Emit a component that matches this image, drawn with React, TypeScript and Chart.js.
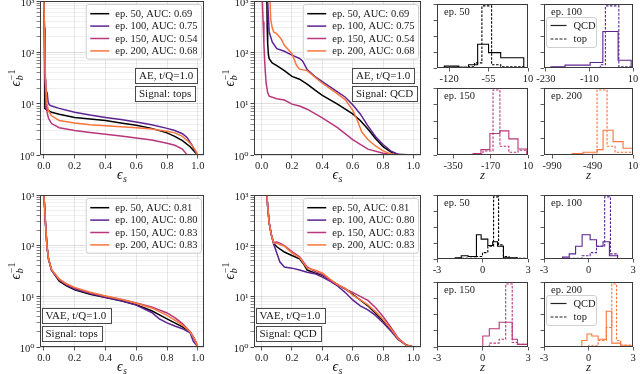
import React, { useEffect, useRef } from 'react';
import { Chart, registerables } from 'chart.js';

Chart.register(...registerables);

const SERIF = "'Liberation Serif', 'DejaVu Serif', serif";
const INK = '#1a1a1a';
const FRAME = '#3a3a3a';

const EPOCH_LABELS = ['ep. 50', 'ep. 100', 'ep. 150', 'ep. 200'];
const EPOCH_COLORS = ['#000000', '#5c2390', '#b8367b', '#f8763b'];
const AUC_AE = ['0.69', '0.75', '0.54', '0.68'];
const AUC_VAE = ['0.81', '0.80', '0.83', '0.83'];

const ROC_X_TICKS = [0, 0.2, 0.4, 0.6, 0.8, 1.0];
const ROC_Y_DECADES = [1, 10, 100, 1000];
const ROC_Y_LABELS = ['10⁰', '10¹', '10²', '10³'];
const HIST_Y_TICKS = [0, 0.25, 0.5, 0.75, 1.0];

// ROC curves, points are [signal efficiency, 1 / background efficiency]
const AE_TOPS_EP50 = [[0, 1000], [0.004, 300], [0.006, 60], [0.007, 8], [0.03, 7.3], [0.05, 6.8], [0.1, 6.2], [0.2, 5.4], [0.3, 5.0], [0.4, 4.7], [0.5, 4.2], [0.6, 3.8], [0.7, 3.3], [0.8, 2.7], [0.85, 2.3], [0.9, 1.9], [0.95, 1.45], [0.98, 1.15], [1.0, 1.0]];
const AE_TOPS_EP100 = [[0, 1000], [0.005, 200], [0.01, 30], [0.015, 18], [0.022, 16], [0.027, 11], [0.035, 9.5], [0.05, 9.0], [0.1, 8.1], [0.2, 6.8], [0.3, 6.0], [0.4, 5.4], [0.5, 4.9], [0.6, 4.4], [0.7, 3.9], [0.8, 3.3], [0.85, 3.0], [0.9, 2.6], [0.93, 2.2], [0.96, 1.6], [0.98, 1.2], [1.0, 1.0]];
const AE_TOPS_EP150 = [[0, 1000], [0.004, 100], [0.008, 30], [0.012, 12], [0.02, 7], [0.03, 5.2], [0.05, 4.1], [0.1, 3.4], [0.2, 3.0], [0.3, 2.75], [0.4, 2.55], [0.5, 2.35], [0.6, 2.15], [0.7, 1.95], [0.8, 1.7], [0.85, 1.55], [0.9, 1.3], [0.92, 1.1], [0.93, 1.0], [1.0, 1.0]];
const AE_TOPS_EP200 = [[0, 1000], [0.005, 200], [0.01, 30], [0.02, 10], [0.03, 7.2], [0.05, 5.8], [0.1, 4.7], [0.2, 4.2], [0.3, 3.9], [0.4, 3.7], [0.5, 3.55], [0.6, 3.4], [0.7, 3.2], [0.8, 2.9], [0.85, 2.7], [0.9, 2.3], [0.95, 1.7], [0.98, 1.3], [1.0, 1.0]];

const AE_QCD_EP50 = [[0.035, 1000], [0.037, 300], [0.04, 150], [0.045, 90], [0.05, 75], [0.07, 62], [0.1, 55], [0.15, 44], [0.2, 34], [0.25, 30], [0.3, 24], [0.35, 18.5], [0.4, 14.5], [0.5, 9.8], [0.6, 6.3], [0.65, 4.7], [0.7, 3.2], [0.75, 2.1], [0.8, 1.45], [0.85, 1.15], [0.9, 1.02], [1.0, 1.0]];
const AE_QCD_EP100 = [[0.04, 1000], [0.045, 500], [0.05, 250], [0.07, 160], [0.1, 118], [0.15, 105], [0.2, 88], [0.25, 76], [0.27, 68], [0.3, 46], [0.35, 34], [0.4, 27], [0.5, 17], [0.55, 13.5], [0.6, 9.5], [0.65, 6.3], [0.7, 3.7], [0.75, 2.3], [0.8, 1.6], [0.85, 1.2], [0.9, 1.03], [1.0, 1.0]];
const AE_QCD_EP150 = [[0.005, 1000], [0.01, 400], [0.015, 150], [0.02, 70], [0.025, 40], [0.03, 25], [0.04, 16.5], [0.05, 14], [0.1, 12.5], [0.15, 11.8], [0.2, 9.8], [0.25, 9.0], [0.3, 7.8], [0.4, 5.3], [0.5, 3.4], [0.6, 2.0], [0.7, 1.3], [0.8, 1.08], [0.9, 1.0], [1.0, 1.0]];
const AE_QCD_EP200 = [[0.055, 1000], [0.06, 450], [0.07, 300], [0.08, 250], [0.1, 230], [0.13, 180], [0.15, 137], [0.2, 94], [0.23, 56], [0.25, 47], [0.3, 44], [0.35, 33], [0.4, 25], [0.5, 15.5], [0.55, 12], [0.6, 7.5], [0.63, 4.8], [0.66, 2.8], [0.7, 2.0], [0.75, 1.5], [0.8, 1.2], [0.85, 1.05], [0.9, 1.0], [1.0, 1.0]];

const VAE_TOPS_EP50 = [[0, 1000], [0.005, 600], [0.01, 300], [0.02, 100], [0.03, 55], [0.05, 33], [0.1, 20], [0.15, 16], [0.2, 13.5], [0.3, 11], [0.4, 9.5], [0.5, 8.2], [0.6, 6.8], [0.7, 5.2], [0.8, 3.6], [0.85, 3.0], [0.9, 2.5], [0.95, 2.0], [0.98, 1.4], [1.0, 1.0]];
const VAE_TOPS_EP100 = [[0, 1000], [0.005, 600], [0.01, 300], [0.02, 100], [0.03, 55], [0.05, 33], [0.1, 21], [0.15, 16.5], [0.2, 14], [0.3, 11.3], [0.4, 9.6], [0.5, 8.3], [0.6, 6.7], [0.7, 4.8], [0.75, 3.6], [0.8, 3.0], [0.85, 2.6], [0.9, 2.3], [0.95, 1.9], [0.97, 1.3], [1.0, 1.0]];
const VAE_TOPS_EP150 = [[0, 1000], [0.005, 600], [0.01, 300], [0.02, 100], [0.03, 55], [0.05, 33], [0.1, 21], [0.15, 17], [0.2, 14.5], [0.3, 11.8], [0.4, 10], [0.5, 8.8], [0.6, 7.4], [0.7, 6.2], [0.8, 4.7], [0.85, 3.8], [0.9, 2.9], [0.95, 2.0], [0.98, 1.4], [1.0, 1.0]];
const VAE_TOPS_EP200 = [[0, 1000], [0.005, 600], [0.01, 300], [0.02, 100], [0.03, 56], [0.05, 34], [0.1, 22], [0.15, 17.5], [0.2, 15], [0.3, 12], [0.4, 10.2], [0.5, 8.8], [0.6, 7.3], [0.7, 5.9], [0.8, 4.2], [0.85, 3.4], [0.9, 2.7], [0.95, 2.0], [0.98, 1.4], [1.0, 1.0]];

const VAE_QCD_EP50 = [[0.035, 1000], [0.04, 600], [0.05, 280], [0.065, 160], [0.08, 110], [0.1, 95], [0.15, 75], [0.2, 64], [0.25, 55], [0.28, 42], [0.3, 33], [0.35, 29], [0.4, 26], [0.45, 21], [0.5, 17], [0.55, 14], [0.6, 11], [0.7, 6.5], [0.8, 3.3], [0.85, 2.2], [0.9, 1.45], [0.95, 1.1], [1.0, 1.0]];
const VAE_QCD_EP100 = [[0.035, 1000], [0.04, 600], [0.05, 280], [0.065, 160], [0.08, 105], [0.09, 88], [0.1, 72], [0.12, 48], [0.15, 38], [0.2, 36], [0.25, 33], [0.3, 30], [0.35, 28], [0.4, 24], [0.45, 20], [0.5, 16], [0.55, 12], [0.6, 8.5], [0.65, 6.5], [0.7, 5.4], [0.75, 4.2], [0.8, 3.0], [0.85, 2.1], [0.9, 1.4], [0.95, 1.1], [1.0, 1.0]];
const VAE_QCD_EP150 = [[0.035, 1000], [0.04, 600], [0.05, 280], [0.065, 160], [0.08, 115], [0.1, 118], [0.12, 112], [0.15, 100], [0.2, 76], [0.25, 60], [0.3, 38], [0.35, 31], [0.4, 27], [0.45, 21], [0.5, 17], [0.55, 14], [0.6, 12], [0.65, 10], [0.7, 8.3], [0.75, 6], [0.8, 4], [0.85, 2.5], [0.9, 1.5], [0.95, 1.1], [1.0, 1.0]];
const VAE_QCD_EP200 = [[0.035, 1000], [0.04, 600], [0.05, 280], [0.065, 160], [0.08, 112], [0.1, 112], [0.12, 105], [0.15, 98], [0.2, 72], [0.25, 58], [0.3, 36], [0.35, 33], [0.4, 29], [0.45, 22], [0.5, 17], [0.55, 14.5], [0.6, 10.5], [0.65, 8.5], [0.7, 6.8], [0.75, 5], [0.8, 3.5], [0.85, 2.3], [0.9, 1.45], [0.95, 1.1], [1.0, 1.0]];

// Latent-space histograms: bin edges and normalised heights
const AE50_QCD_EDGES = [-140, -128, -104, -88, -73, -55, -35, 3];
const AE50_QCD_H = [0.004, 0.03, 0.01, 0.05, 0.37, 0.24, 0.16];
const AE50_TOP_EDGES = [-140, -112, -88, -78, -66, -50, -35, 3];
const AE50_TOP_H = [0.003, 0.01, 0.02, 0.08, 0.97, 0.05, 0.02];
const AE100_QCD_EDGES = [-235, -216, -177, -108, -73, -31, 5];
const AE100_QCD_H = [0.003, 0.02, 0.045, 0.085, 0.57, 0.12];
const AE100_TOP_EDGES = [-235, -80, -66, -29, 5];
const AE100_TOP_H = [0.003, 0.05, 0.97, 0.02];
const AE150_QCD_EDGES = [-427, -254, -216, -173, -125, -82, -38, 5];
const AE150_QCD_H = [0.003, 0.02, 0.08, 0.32, 0.36, 0.24, 0.09];
const AE150_TOP_EDGES = [-427, -240, -206, -158, -125, -82, -38, 5];
const AE150_TOP_H = [0.003, 0.015, 0.06, 0.97, 0.13, 0.04, 0.07];
const AE200_QCD_EDGES = [-1090, -743, -607, -434, -360, -236, -113, 5];
const AE200_QCD_H = [0.003, 0.02, 0.04, 0.08, 0.37, 0.2, 0.1];
const AE200_TOP_EDGES = [-1090, -600, -434, -311, -212, 5];
const AE200_TOP_H = [0.003, 0.01, 0.97, 0.13, 0.04];

const VAE50_QCD_EDGES = [-1.8, -1.4, -0.95, -0.4, -0.09, 0.35, 0.67, 0.99, 1.38, 2.3, 3];
const VAE50_QCD_H = [0.02, 0.05, 0.04, 0.38, 0.31, 0.21, 0.27, 0.2, 0.02, 0.005];
const VAE50_TOP_EDGES = [-1.6, -0.4, 0.0, 0.35, 0.73, 1.06, 1.38, 1.75, 3];
const VAE50_TOP_H = [0.01, 0.04, 0.1, 0.2, 0.97, 0.22, 0.04, 0.01];
const VAE100_QCD_EDGES = [-1.75, -1.3, -0.87, -0.43, 0.11, 0.54, 0.98, 1.41, 1.96, 3];
const VAE100_QCD_H = [0.03, 0.08, 0.2, 0.38, 0.3, 0.2, 0.27, 0.05, 0.005];
const VAE100_TOP_EDGES = [-1.3, -0.43, 0.11, 0.54, 1.09, 1.48, 1.96, 3];
const VAE100_TOP_H = [0.01, 0.05, 0.1, 0.2, 0.97, 0.08, 0.005];
const VAE150_QCD_EDGES = [0.02, 0.45, 1.1, 1.96, 2.3, 3];
const VAE150_QCD_H = [0.17, 0.28, 0.38, 0.12, 0.04];
const VAE150_TOP_EDGES = [0.45, 1.1, 1.53, 1.96, 2.3, 3];
const VAE150_TOP_H = [0.06, 0.12, 0.97, 0.07, 0.04];
const VAE200_QCD_EDGES = [-0.45, -0.1, 0.22, 0.65, 1.2, 1.57, 2.17, 3];
const VAE200_QCD_H = [0.1, 0.2, 0.17, 0.12, 0.55, 0.06, 0.02];
const VAE200_TOP_EDGES = [0.0, 0.65, 1.2, 1.57, 1.89, 2.17, 3];
const VAE200_TOP_H = [0.02, 0.1, 0.3, 0.97, 0.1, 0.03];

const AE_HIST_RANGES = [[-140, 10], [-235, 10], [-427, 10], [-1090, 10]];
const AE_HIST_TICKS = [[-120, -55, 10], [-230, -110, 10], [-350, -170, 10], [-990, -490, 10]];
const VAE_HIST_RANGE = [-3, 3];
const VAE_HIST_TICKS = [-3, 0, 3];

type Rect = { l: number; t: number; r: number; b: number };

function roundRectPath(ctx: CanvasRenderingContext2D, x: number, y: number, w: number, h: number, r: number) {
  ctx.beginPath();
  ctx.moveTo(x + r, y);
  ctx.lineTo(x + w - r, y);
  ctx.arcTo(x + w, y, x + w, y + r, r);
  ctx.lineTo(x + w, y + h - r);
  ctx.arcTo(x + w, y + h, x + w - r, y + h, r);
  ctx.lineTo(x + r, y + h);
  ctx.arcTo(x, y + h, x, y + h - r, r);
  ctx.lineTo(x, y + r);
  ctx.arcTo(x, y, x + r, y, r);
  ctx.closePath();
}

function drawEps(ctx: CanvasRenderingContext2D, cx: number, cy: number, sub: string, sup: string, vertical: boolean) {
  ctx.save();
  ctx.translate(cx, cy);
  if (vertical) ctx.rotate(-Math.PI / 2);
  const fMain = `italic 14px ${SERIF}`;
  const fSub = `italic 10px ${SERIF}`;
  const fSup = `10px ${SERIF}`;
  ctx.font = fMain;
  const w0 = ctx.measureText('ϵ').width;
  ctx.font = fSub;
  const w1 = ctx.measureText(sub).width;
  let w2 = 0;
  if (sup) {
    ctx.font = fSup;
    w2 = ctx.measureText(sup).width;
  }
  const total = w0 + 0.5 + Math.max(w1, w2);
  const x = -total / 2;
  ctx.fillStyle = INK;
  ctx.textAlign = 'left';
  ctx.textBaseline = 'alphabetic';
  ctx.font = fMain;
  ctx.fillText('ϵ', x, 3);
  ctx.font = fSub;
  ctx.fillText(sub, x + w0 + 0.5, 6);
  if (sup) {
    ctx.font = fSup;
    ctx.fillText(sup, x + w0 + 0.5, -2);
  }
  ctx.restore();
}

function drawFrame(ctx: CanvasRenderingContext2D, a: any) {
  ctx.save();
  ctx.strokeStyle = FRAME;
  ctx.lineWidth = 1;
  ctx.strokeRect(Math.round(a.left) + 0.5, Math.round(a.top) + 0.5, Math.round(a.right - a.left) - 1, Math.round(a.bottom - a.top) - 1);
  ctx.restore();
}

type RocSpec = {
  key: string;
  plot: Rect;
  xMin: number;
  xMax: number;
  curves: number[][][];
  aucs: string[];
  boxes: string[];
  boxSide: 'right' | 'left';
};

const ROC_SPECS: RocSpec[] = [
  { key: 'ae-tops', plot: { l: 40, t: 1, r: 204, b: 155 }, xMin: -0.025, xMax: 1.04, curves: [AE_TOPS_EP50, AE_TOPS_EP100, AE_TOPS_EP150, AE_TOPS_EP200], aucs: AUC_AE, boxes: ['AE, t/Q=1.0', 'Signal: tops'], boxSide: 'right' },
  { key: 'ae-qcd', plot: { l: 254, t: 1, r: 421, b: 155 }, xMin: -0.05, xMax: 1.05, curves: [AE_QCD_EP50, AE_QCD_EP100, AE_QCD_EP150, AE_QCD_EP200], aucs: AUC_AE, boxes: ['AE, t/Q=1.0', 'Signal: QCD'], boxSide: 'right' },
  { key: 'vae-tops', plot: { l: 40, t: 195, r: 204, b: 347 }, xMin: -0.025, xMax: 1.04, curves: [VAE_TOPS_EP50, VAE_TOPS_EP100, VAE_TOPS_EP150, VAE_TOPS_EP200], aucs: AUC_VAE, boxes: ['VAE, t/Q=1.0', 'Signal: tops'], boxSide: 'left' },
  { key: 'vae-qcd', plot: { l: 254, t: 195, r: 421, b: 347 }, xMin: -0.05, xMax: 1.05, curves: [VAE_QCD_EP50, VAE_QCD_EP100, VAE_QCD_EP150, VAE_QCD_EP200], aucs: AUC_VAE, boxes: ['VAE, t/Q=1.0', 'Signal: QCD'], boxSide: 'left' },
];

const ROC_AXIS_W = 40;
const ROC_AXIS_H = 32;
const ROC_PAD_T = 12;
const ROC_PAD_R = 14;

function rocCanvasBox(p: Rect) {
  return { x: p.l - ROC_AXIS_W, y: p.t - ROC_PAD_T, w: p.r - p.l + ROC_AXIS_W + ROC_PAD_R, h: p.b - p.t + ROC_PAD_T + ROC_AXIS_H };
}

function makeRocConfig(spec: RocSpec) {
  const datasets = spec.curves.map((c, i) => ({
    label: EPOCH_LABELS[i],
    data: c.map(([x, y]) => ({ x, y })),
    borderColor: EPOCH_COLORS[i],
    backgroundColor: EPOCH_COLORS[i],
    borderWidth: 1.5,
    pointRadius: 0,
    tension: 0,
    fill: false,
    order: 3 - i,
  }));
  const legendLabels = spec.aucs.map((a, i) => `${EPOCH_LABELS[i]}, AUC: ${a}`);
  const deco = {
    id: 'rocDeco',
    afterDraw(chart: any) {
      const ctx: CanvasRenderingContext2D = chart.ctx;
      const a = chart.chartArea;
      drawFrame(ctx, a);
      ctx.save();
      // legend
      ctx.font = `10.5px ${SERIF}`;
      const tw = Math.max(...legendLabels.map((l) => ctx.measureText(l).width));
      const rowH = 12.4;
      const lineW = 19;
      const w = 4 + lineW + 6 + tw + 4;
      const h = rowH * legendLabels.length + 5;
      const x0 = a.right - 2.5 - w;
      const y0 = a.top + 3.5;
      roundRectPath(ctx, x0, y0, w, h, 2.5);
      ctx.fillStyle = 'rgba(255,255,255,0.85)';
      ctx.fill();
      ctx.strokeStyle = '#cfcfcf';
      ctx.lineWidth = 1;
      ctx.stroke();
      legendLabels.forEach((l, i) => {
        const yy = y0 + 2.5 + rowH * (i + 0.5) + 0.5;
        ctx.beginPath();
        ctx.moveTo(x0 + 4, yy);
        ctx.lineTo(x0 + 4 + lineW, yy);
        ctx.strokeStyle = EPOCH_COLORS[i];
        ctx.lineWidth = 1.5;
        ctx.stroke();
        ctx.fillStyle = INK;
        ctx.textAlign = 'left';
        ctx.textBaseline = 'middle';
        ctx.fillText(l, x0 + 4 + lineW + 6, yy + 0.5);
      });
      // text boxes
      ctx.font = `11px ${SERIF}`;
      spec.boxes.forEach((t, i) => {
        const bw = ctx.measureText(t).width + 8;
        const bh = 15;
        const bx = spec.boxSide === 'right' ? a.right - 69 : a.left + 1.5;
        const by = spec.boxSide === 'right' ? a.top + 67 + i * 18 : a.top + 113 + i * 17.5;
        ctx.fillStyle = '#ffffff';
        ctx.fillRect(bx, by, bw, bh);
        ctx.strokeStyle = '#4a4a4a';
        ctx.lineWidth = 1;
        ctx.strokeRect(Math.round(bx) + 0.5, Math.round(by) + 0.5, Math.round(bw), Math.round(bh));
        ctx.fillStyle = INK;
        ctx.textAlign = 'left';
        ctx.textBaseline = 'middle';
        ctx.fillText(t, bx + 4, by + bh / 2 + 1);
      });
      ctx.restore();
      // axis titles
      drawEps(ctx, (a.left + a.right) / 2, a.bottom + 21, 's', '', false);
      drawEps(ctx, a.left - 23, (a.top + a.bottom) / 2, 'b', '−1', true);
    },
  };
  return {
    type: 'line',
    data: { datasets },
    options: {
      animation: false,
      responsive: false,
      devicePixelRatio: 1,
      events: [],
      layout: { padding: { top: ROC_PAD_T, right: ROC_PAD_R, left: 0, bottom: 0 } },
      plugins: { legend: { display: false }, tooltip: { enabled: false }, title: { display: false } },
      scales: {
        x: {
          type: 'linear',
          min: spec.xMin,
          max: spec.xMax,
          afterBuildTicks: (s: any) => {
            s.ticks = ROC_X_TICKS.map((v) => ({ value: v }));
          },
          afterFit: (s: any) => {
            s.height = ROC_AXIS_H;
          },
          ticks: {
            autoSkip: false,
            maxRotation: 0,
            padding: 1,
            color: INK,
            font: { family: SERIF, size: 10.5 },
            callback: (v: any) => Number(v).toFixed(1),
          },
          grid: { color: 'rgba(0,0,0,0.12)', lineWidth: 0.8, tickLength: 3.5, tickColor: '#333', tickWidth: 0.8 },
          border: { display: false },
        },
        y: {
          type: 'logarithmic',
          min: 1,
          max: 1000,
          afterBuildTicks: (s: any) => {
            const ticks: any[] = [];
            ROC_Y_DECADES.forEach((d, k) => {
              if (k === ROC_Y_DECADES.length - 1) {
                ticks.push({ value: d, major: true });
              } else {
                for (let m = 1; m < 10; m++) ticks.push({ value: d * m, major: m === 1 });
              }
            });
            s.ticks = ticks;
          },
          afterFit: (s: any) => {
            s.width = ROC_AXIS_W;
          },
          ticks: {
            autoSkip: false,
            padding: 2,
            labelOffset: 2,
            color: INK,
            font: { family: SERIF, size: 10.5 },
            callback: (v: any) => {
              const k = ROC_Y_DECADES.indexOf(Number(v));
              return k >= 0 ? ROC_Y_LABELS[k] : '';
            },
          },
          grid: {
            color: (c: any) => (c.tick && ROC_Y_DECADES.includes(c.tick.value) ? 'rgba(0,0,0,0.16)' : 'rgba(0,0,0,0.08)'),
            lineWidth: 0.8,
            tickLength: 3.5,
            tickColor: '#333',
            tickWidth: (c: any) => (c.tick && ROC_Y_DECADES.includes(c.tick.value) ? 0.9 : 0.6),
          },
          border: { display: false },
        },
      },
    },
    plugins: [deco],
  };
}

type HistSpec = {
  key: string;
  plot: Rect;
  label: string;
  color: string;
  range: number[];
  ticks: number[];
  qcdEdges: number[];
  qcdH: number[];
  topEdges: number[];
  topH: number[];
  legend: boolean;
  zTitle: boolean;
};

const HIST_COL_X = [[437, 528], [544, 633]];
const HIST_ROW_Y = [[4, 68], [88, 155], [195, 259], [282, 347]];

const AE_QCD = [[AE50_QCD_EDGES, AE50_QCD_H], [AE100_QCD_EDGES, AE100_QCD_H], [AE150_QCD_EDGES, AE150_QCD_H], [AE200_QCD_EDGES, AE200_QCD_H]];
const AE_TOP = [[AE50_TOP_EDGES, AE50_TOP_H], [AE100_TOP_EDGES, AE100_TOP_H], [AE150_TOP_EDGES, AE150_TOP_H], [AE200_TOP_EDGES, AE200_TOP_H]];
const VAE_QCD = [[VAE50_QCD_EDGES, VAE50_QCD_H], [VAE100_QCD_EDGES, VAE100_QCD_H], [VAE150_QCD_EDGES, VAE150_QCD_H], [VAE200_QCD_EDGES, VAE200_QCD_H]];
const VAE_TOP = [[VAE50_TOP_EDGES, VAE50_TOP_H], [VAE100_TOP_EDGES, VAE100_TOP_H], [VAE150_TOP_EDGES, VAE150_TOP_H], [VAE200_TOP_EDGES, VAE200_TOP_H]];

const HIST_SPECS: HistSpec[] = [];
[0, 1, 2, 3].forEach((i) => {
  const col = HIST_COL_X[i % 2];
  const rowA = HIST_ROW_Y[Math.floor(i / 2)];
  const rowV = HIST_ROW_Y[2 + Math.floor(i / 2)];
  HIST_SPECS.push({
    key: `ae-h${i}`,
    plot: { l: col[0], t: rowA[0], r: col[1], b: rowA[1] },
    label: EPOCH_LABELS[i],
    color: EPOCH_COLORS[i],
    range: AE_HIST_RANGES[i],
    ticks: AE_HIST_TICKS[i],
    qcdEdges: AE_QCD[i][0],
    qcdH: AE_QCD[i][1],
    topEdges: AE_TOP[i][0],
    topH: AE_TOP[i][1],
    legend: i === 1,
    zTitle: i >= 2,
  });
  HIST_SPECS.push({
    key: `vae-h${i}`,
    plot: { l: col[0], t: rowV[0], r: col[1], b: rowV[1] },
    label: EPOCH_LABELS[i],
    color: EPOCH_COLORS[i],
    range: VAE_HIST_RANGE,
    ticks: VAE_HIST_TICKS,
    qcdEdges: VAE_QCD[i][0],
    qcdH: VAE_QCD[i][1],
    topEdges: VAE_TOP[i][0],
    topH: VAE_TOP[i][1],
    legend: i === 3,
    zTitle: i >= 2,
  });
});

const H_AXIS_W = 10;
const H_AXIS_H = 30;
const H_PAD_T = 8;
const H_PAD_R = 9;

function histCanvasBox(p: Rect) {
  return { x: p.l - H_AXIS_W, y: p.t - H_PAD_T, w: p.r - p.l + H_AXIS_W + H_PAD_R, h: p.b - p.t + H_PAD_T + H_AXIS_H };
}

function stepPoints(edges: number[], h: number[]) {
  const pts = [{ x: edges[0], y: 0 }];
  h.forEach((v, i) => pts.push({ x: edges[i], y: v }));
  pts.push({ x: edges[edges.length - 1], y: 0 });
  return pts;
}

function makeHistConfig(spec: HistSpec) {
  const datasets = [
    { label: 'QCD', data: stepPoints(spec.qcdEdges, spec.qcdH), borderColor: spec.color, borderWidth: 1.1, stepped: 'before', pointRadius: 0, fill: false },
    { label: 'top', data: stepPoints(spec.topEdges, spec.topH), borderColor: spec.color, borderWidth: 1.1, borderDash: [2.5, 1.5], stepped: 'before', pointRadius: 0, fill: false },
  ];
  const deco = {
    id: 'histDeco',
    afterDraw(chart: any) {
      const ctx: CanvasRenderingContext2D = chart.ctx;
      const a = chart.chartArea;
      drawFrame(ctx, a);
      ctx.save();
      ctx.fillStyle = INK;
      ctx.font = `10.5px ${SERIF}`;
      ctx.textAlign = 'left';
      ctx.textBaseline = 'middle';
      ctx.fillText(spec.label, a.left + 7, a.top + 8);
      if (spec.legend) {
        const x0 = a.left + 2.5;
        const y0 = a.top + 13.5;
        const w = 50;
        const h = 30;
        roundRectPath(ctx, x0, y0, w, h, 2.5);
        ctx.fillStyle = 'rgba(255,255,255,0.85)';
        ctx.fill();
        ctx.strokeStyle = '#cfcfcf';
        ctx.lineWidth = 1;
        ctx.stroke();
        ['QCD', 'top'].forEach((t, i) => {
          const yy = y0 + 8 + i * 13.5;
          ctx.beginPath();
          ctx.setLineDash(i === 0 ? [] : [3, 1.5]);
          ctx.moveTo(x0 + 4, yy);
          ctx.lineTo(x0 + 20, yy);
          ctx.strokeStyle = '#222';
          ctx.lineWidth = 1.2;
          ctx.stroke();
          ctx.setLineDash([]);
          ctx.fillStyle = INK;
          ctx.fillText(t, x0 + 27, yy + 0.5);
        });
      }
      if (spec.zTitle) {
        ctx.font = `italic 13px ${SERIF}`;
        ctx.textAlign = 'center';
        ctx.textBaseline = 'middle';
        ctx.fillText('z', (a.left + a.right) / 2, a.bottom + 21);
      }
      ctx.restore();
    },
  };
  return {
    type: 'line',
    data: { datasets },
    options: {
      animation: false,
      responsive: false,
      devicePixelRatio: 1,
      events: [],
      layout: { padding: { top: H_PAD_T, right: H_PAD_R, left: 0, bottom: 0 } },
      plugins: { legend: { display: false }, tooltip: { enabled: false }, title: { display: false } },
      scales: {
        x: {
          type: 'linear',
          min: spec.range[0],
          max: spec.range[1],
          afterBuildTicks: (s: any) => {
            s.ticks = spec.ticks.map((v) => ({ value: v }));
          },
          afterFit: (s: any) => {
            s.height = H_AXIS_H;
          },
          ticks: {
            autoSkip: false,
            maxRotation: 0,
            padding: 1,
            color: INK,
            font: { family: SERIF, size: 10.5 },
            callback: (v: any) => String(v),
          },
          grid: { drawOnChartArea: false, tickLength: 3.5, tickColor: '#333', tickWidth: 0.8 },
          border: { display: false },
        },
        y: {
          type: 'linear',
          min: 0,
          max: 1,
          afterBuildTicks: (s: any) => {
            s.ticks = HIST_Y_TICKS.map((v) => ({ value: v }));
          },
          afterFit: (s: any) => {
            s.width = H_AXIS_W;
          },
          ticks: { display: false },
          grid: { drawOnChartArea: false, tickLength: 3.5, tickColor: '#333', tickWidth: 0.8 },
          border: { display: false },
        },
      },
    },
    plugins: [deco],
  };
}

function ChartCanvas({ box, make }: { box: { x: number; y: number; w: number; h: number }; make: () => any }) {
  const ref = useRef<HTMLCanvasElement | null>(null);
  useEffect(() => {
    const chart = new Chart(ref.current as HTMLCanvasElement, make());
    return () => chart.destroy();
  }, []);
  return (
    <canvas
      ref={ref}
      width={box.w}
      height={box.h}
      style={{ position: 'absolute', left: box.x, top: box.y, width: box.w, height: box.h }}
    />
  );
}

export default function App() {
  return (
    <div style={{ position: 'fixed', left: 0, top: 0, width: 640, height: 374, overflow: 'hidden', background: '#ffffff' }}>
      {ROC_SPECS.map((s) => (
        <ChartCanvas key={s.key} box={rocCanvasBox(s.plot)} make={() => makeRocConfig(s)} />
      ))}
      {HIST_SPECS.map((s) => (
        <ChartCanvas key={s.key} box={histCanvasBox(s.plot)} make={() => makeHistConfig(s)} />
      ))}
    </div>
  );
}
